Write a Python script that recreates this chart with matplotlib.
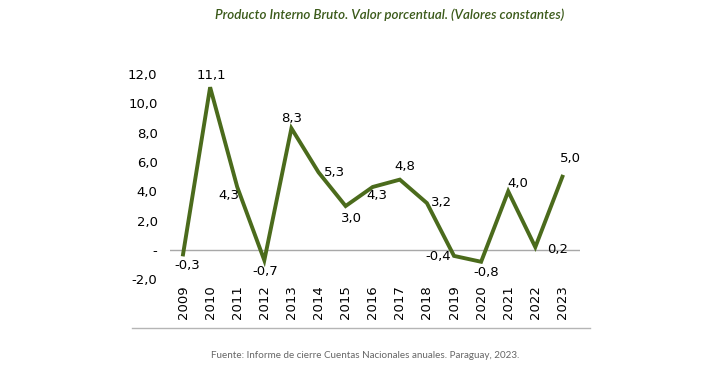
import matplotlib
matplotlib.use("Agg")
import matplotlib.pyplot as plt
from matplotlib.lines import Line2D

# PIB Paraguay, variación porcentual (valores constantes)
years = [2009, 2010, 2011, 2012, 2013, 2014, 2015, 2016,
         2017, 2018, 2019, 2020, 2021, 2022, 2023]
values = [-0.3, 11.1, 4.3, -0.7, 8.3, 5.3, 3.0, 4.3,
          4.8, 3.2, -0.4, -0.8, 4.0, 0.2, 5.0]
yticks = [-2, 0, 2, 4, 6, 8, 10, 12]
ytick_labels = ["-2,0", "-", "2,0", "4,0", "6,0", "8,0", "10,0", "12,0"]

# label offsets in pixels (dx, dy) relative to each point
offsets = [(4, -11), (1, 12), (-8, -9), (1, -11), (0, 10), (16, 0), (6, -12),
           (4, -9), (5, 13), (15, 1), (-16, -1), (5, -11), (10, 8), (22, -2),
           (8, 18)]

GREEN = "#4b6b1c"
TITLE_GREEN = "#3b5a1a"

fig = plt.figure(figsize=(7.04, 3.72), dpi=100)
ax = fig.add_axes([0.2415, 0.249, 0.5824, 0.552])

x = list(range(len(years)))
ax.axhline(0, color="#a8a8a8", lw=1.0, zorder=1)
ax.plot(x, values, color=GREEN, lw=2.8, solid_joinstyle="miter", zorder=3)

for xi, v, (dx, dy) in zip(x, values, offsets):
    ax.annotate(f"{v:.1f}".replace(".", ","), (xi, v), xytext=(dx, dy),
                textcoords="offset pixels", ha="center", va="center",
                fontsize=9.5, color="black", zorder=4)

ax.set_xlim(-0.48, 14.65)
ax.set_ylim(-2, 12)
ax.set_yticks(yticks)
ax.set_yticklabels(ytick_labels)
ax.set_xticks(x)
ax.set_xticklabels([str(y) for y in years], rotation=90)
ax.tick_params(axis="y", length=0, pad=9, labelsize=9.5)
ax.tick_params(axis="x", length=0, pad=4, labelsize=9.5)
for s in ax.spines.values():
    s.set_visible(False)

# bottom separator line
fig.add_artist(Line2D([132 / 704, 590 / 704], [1 - 328 / 372, 1 - 328 / 372],
                      color="#b5b5b5", lw=1.0))

fig.text(390 / 704, 1 - 15 / 372,
         "Producto Interno Bruto. Valor porcentual. (Valores constantes)",
         ha="center", va="center", fontsize=9.6, style="italic",
         fontweight="semibold", family="Lato", color=TITLE_GREEN)
fig.text(365 / 704, 1 - 356 / 372,
         "Fuente: Informe de cierre Cuentas Nacionales anuales. Paraguay, 2023.",
         ha="center", va="center", fontsize=7.1, family="Lato", color="#666666")

fig.savefig("out.png", dpi=100)
